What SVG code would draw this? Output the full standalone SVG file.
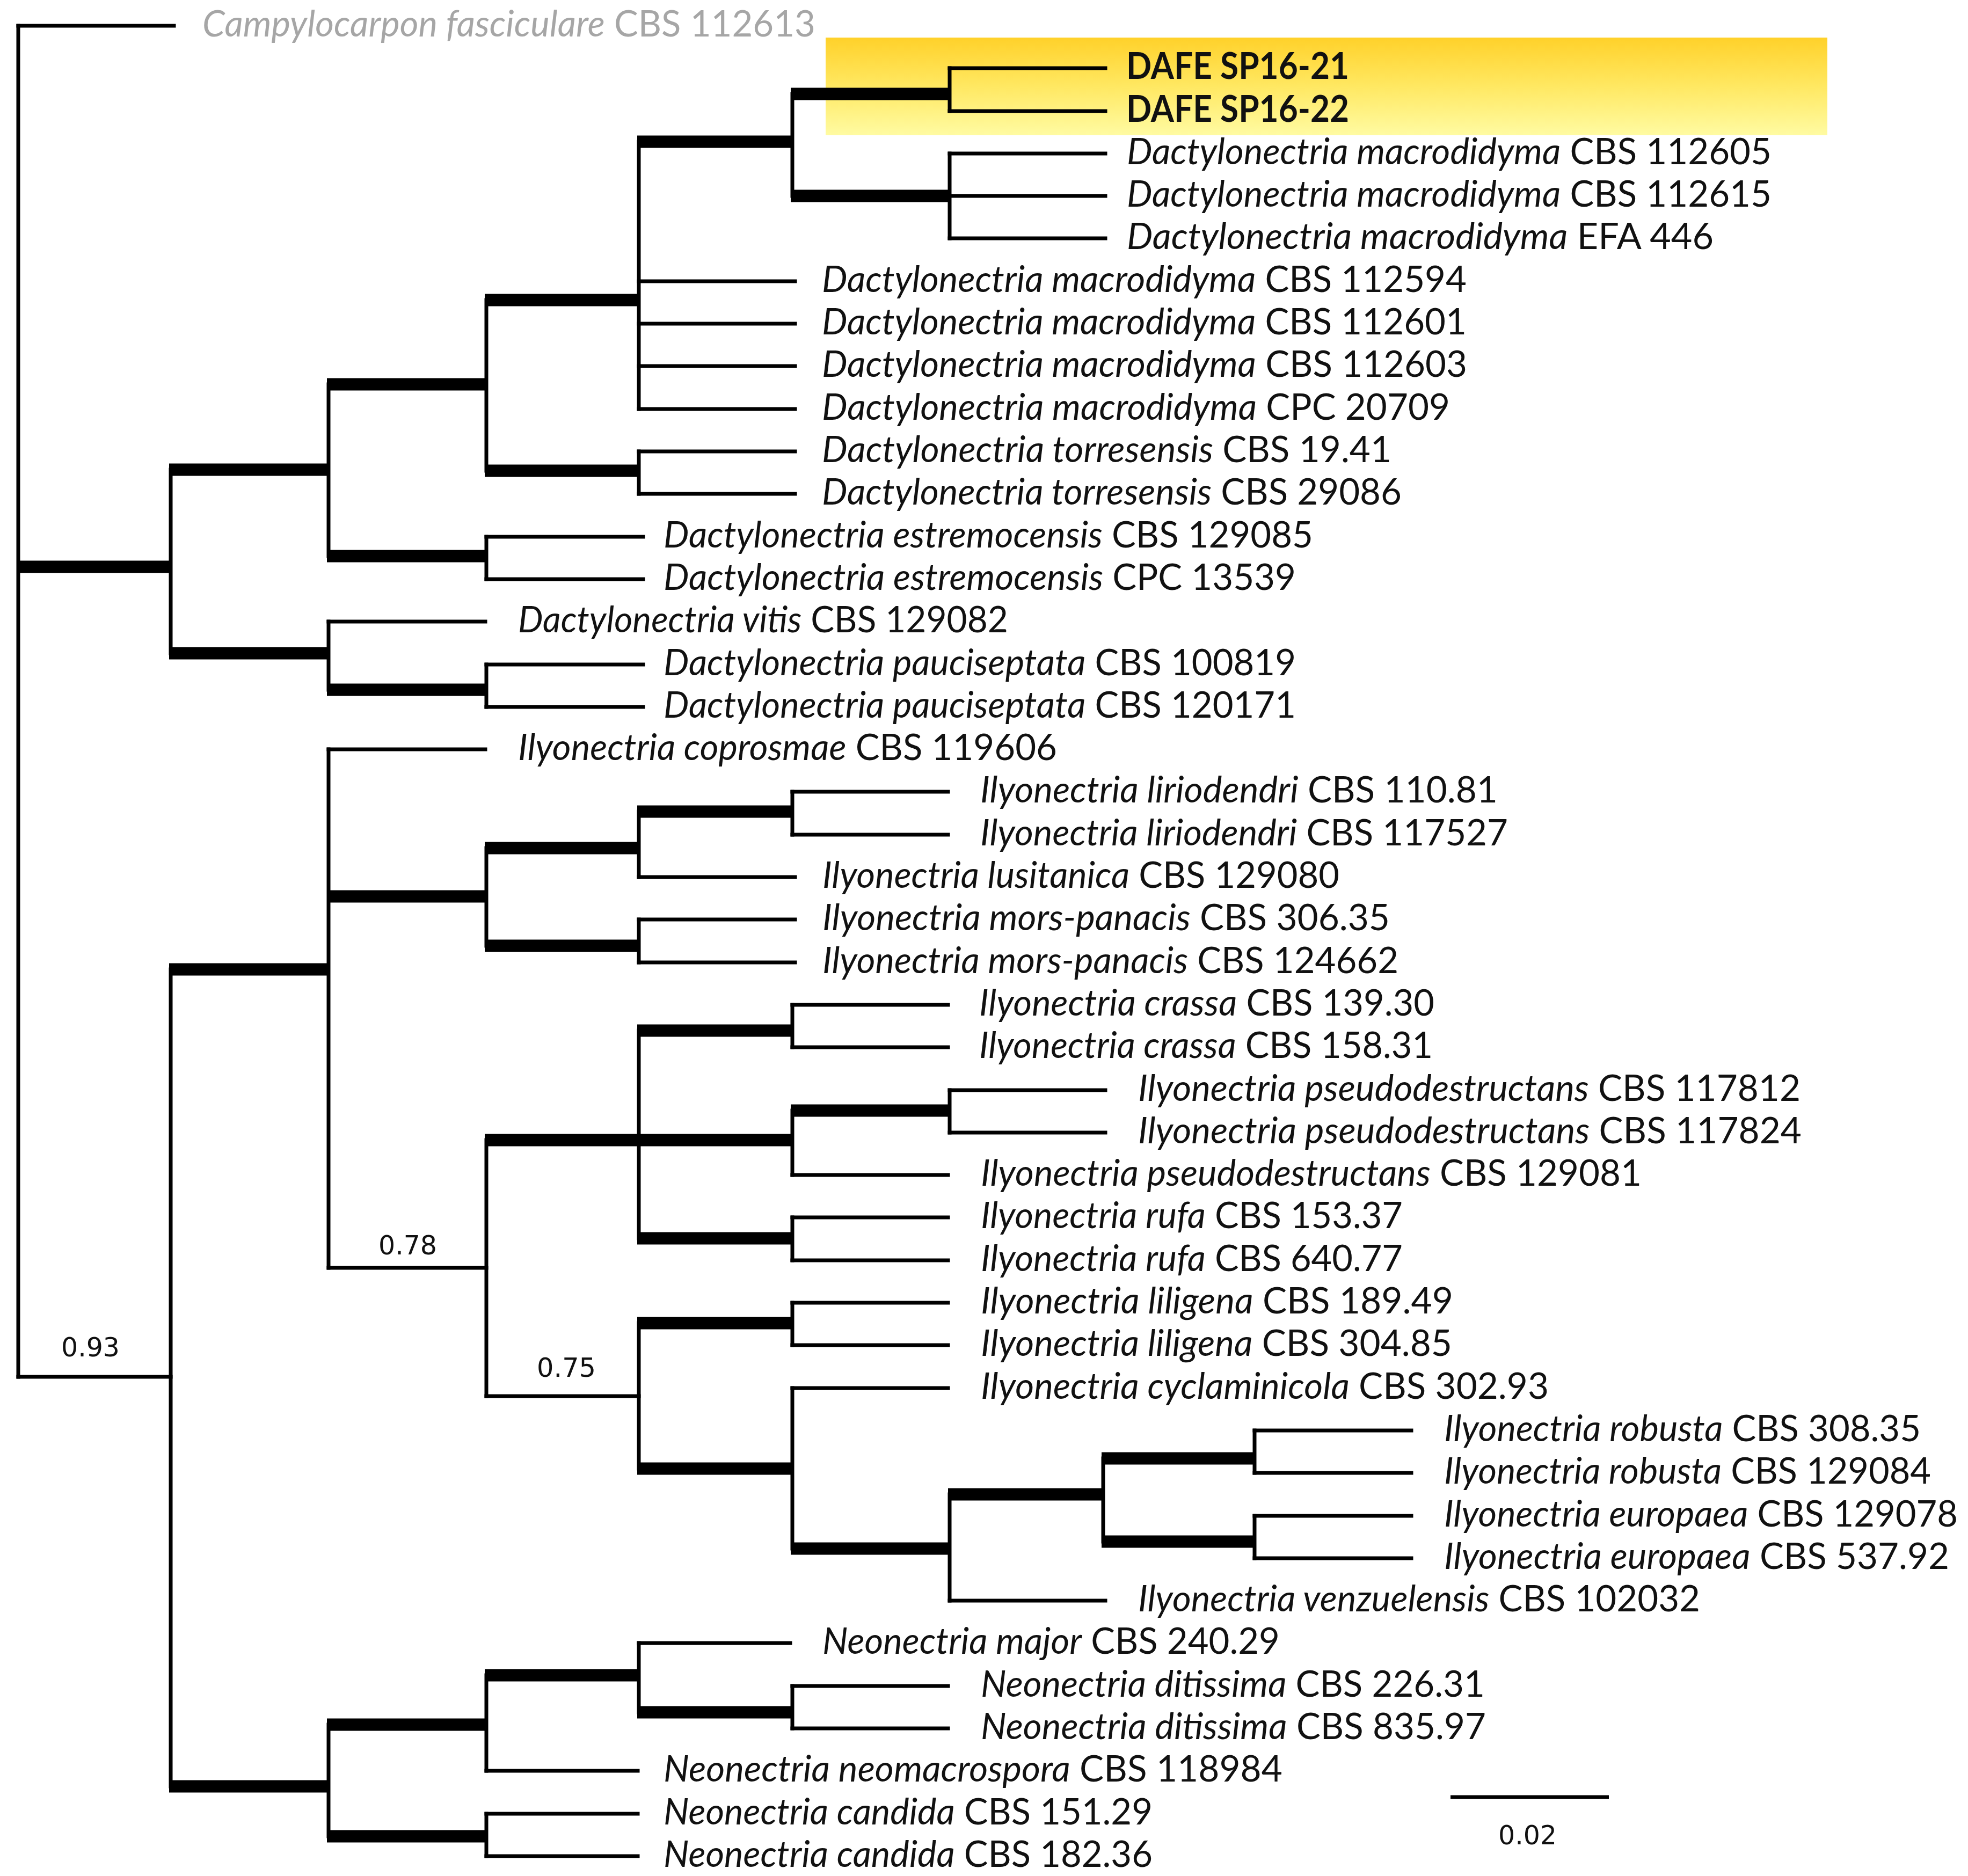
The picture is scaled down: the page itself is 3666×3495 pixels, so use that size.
<svg xmlns="http://www.w3.org/2000/svg" width="3666" height="3495" viewBox="0 0 3666 3495">
<style>
.t{font-family:Lato,"Open Sans","Liberation Sans",sans-serif;font-size:68px;fill:#111}
.i{font-style:italic}
.b{font-weight:bold}
.g{fill:#a6a6a6}
.num{font-family:"DejaVu Sans",Verdana,sans-serif;font-size:50px;fill:#111}
.thin{stroke:#000;stroke-width:7;fill:none;stroke-linecap:square}
.thick{stroke:#000;stroke-width:23;fill:none;stroke-linecap:butt}
</style>
<defs>
<linearGradient id="hl" x1="0" y1="0" x2="0" y2="1">
<stop offset="0" stop-color="#FFD12A"/>
<stop offset="0.5" stop-color="#FFE862"/>
<stop offset="1" stop-color="#FFFBA2"/>
</linearGradient>
</defs>
<rect width="3666" height="3495" fill="#fff"/>
<rect id="highlight" x="1538" y="70" width="1866" height="182" fill="url(#hl)"/>
<g id="connectors">
<path class="thin" d="M34 48V2565M318 875V1217M612 716V1036M906 559V877M1190 264V762M1476 175V365M1769 127V207M1769 286V444M1190 841V920M906 1000V1079M612 1158V1285M906 1238V1317M318 1806V3328M612 1396V2362M906 1580V1762M1190 1512V1634M1476 1475V1555M1190 1713V1793M906 2124V2601M1190 1920V2307M1476 1872V1951M1476 2069V2189M1769 2031V2110M1476 2268V2348M1190 2465V2736M1476 2427V2506M1476 2586V2885M1769 2784V2982M2055 2717V2872M2337 2665V2744M2337 2824V2903M612 3213V3421M906 3121V3299M906 3379V3458M1190 3061V3190M1476 3141V3220"/>
<path class="thin" d="M34 48H324M34 2565H318M1769 127H2059M1769 207H2059M1769 286H2059M1769 365H2059M1769 444H2059M1190 524H1481M1190 603H1481M1190 682H1481M1190 762H1481M1190 841H1481M1190 920H1481M906 1000H1198M906 1079H1198M612 1158H904M906 1238H1198M906 1317H1198M612 1396H904M612 2362H906M1476 1475H1766M1476 1555H1766M1190 1634H1481M1190 1713H1481M1190 1793H1481M1476 1872H1766M1476 1951H1766M1769 2031H2059M1769 2110H2059M1476 2189H1766M1476 2268H1766M1476 2348H1766M906 2601H1190M1476 2427H1766M1476 2506H1766M1476 2586H1766M2337 2665H2629M2337 2744H2629M2337 2824H2629M2337 2903H2629M1769 2982H2059M1190 3061H1472M1476 3141H1766M1476 3220H1766M906 3299H1188M906 3379H1188M906 3458H1188"/>
<path class="thick" d="M31 1056H321M315 875H615M609 716H909M903 559H1193M1187 264H1479M1473 175H1772M1473 365H1772M903 877H1193M609 1036H909M315 1217H615M609 1285H909M315 1806H615M609 1670H909M903 1580H1193M1187 1512H1479M903 1762H1193M903 2124H1479M1187 1920H1479M1473 2069H1772M1187 2307H1479M1187 2465H1479M1187 2736H1479M1473 2885H1772M1766 2784H2058M2052 2717H2340M2052 2872H2340M315 3328H615M609 3213H909M609 3421H909M903 3121H1193M1187 3190H1479"/>
</g>
<g id="leaf-0"><text class="t g" x="377" y="68" textLength="1142" lengthAdjust="spacingAndGlyphs"><tspan class="i">Campylocarpon fasciculare</tspan> CBS 112613</text></g>
<g id="leaf-1"><text class="t b" x="2098" y="147" textLength="415" lengthAdjust="spacingAndGlyphs">DAFE SP16-21</text></g>
<g id="leaf-2"><text class="t b" x="2098" y="227" textLength="415" lengthAdjust="spacingAndGlyphs">DAFE SP16-22</text></g>
<g id="leaf-3"><text class="t" x="2099" y="306" textLength="1201" lengthAdjust="spacingAndGlyphs"><tspan class="i">Dactylonectria macrodidyma</tspan> CBS 112605</text></g>
<g id="leaf-4"><text class="t" x="2099" y="385" textLength="1201" lengthAdjust="spacingAndGlyphs"><tspan class="i">Dactylonectria macrodidyma</tspan> CBS 112615</text></g>
<g id="leaf-5"><text class="t" x="2099" y="464" textLength="1093" lengthAdjust="spacingAndGlyphs"><tspan class="i">Dactylonectria macrodidyma</tspan> EFA 446</text></g>
<g id="leaf-6"><text class="t" x="1531" y="544" textLength="1201" lengthAdjust="spacingAndGlyphs"><tspan class="i">Dactylonectria macrodidyma</tspan> CBS 112594</text></g>
<g id="leaf-7"><text class="t" x="1531" y="623" textLength="1201" lengthAdjust="spacingAndGlyphs"><tspan class="i">Dactylonectria macrodidyma</tspan> CBS 112601</text></g>
<g id="leaf-8"><text class="t" x="1531" y="702" textLength="1202" lengthAdjust="spacingAndGlyphs"><tspan class="i">Dactylonectria macrodidyma</tspan> CBS 112603</text></g>
<g id="leaf-9"><text class="t" x="1531" y="782" textLength="1170" lengthAdjust="spacingAndGlyphs"><tspan class="i">Dactylonectria macrodidyma</tspan> CPC 20709</text></g>
<g id="leaf-10"><text class="t" x="1531" y="861" textLength="1061" lengthAdjust="spacingAndGlyphs"><tspan class="i">Dactylonectria torresensis</tspan> CBS 19.41</text></g>
<g id="leaf-11"><text class="t" x="1531" y="940" textLength="1080" lengthAdjust="spacingAndGlyphs"><tspan class="i">Dactylonectria torresensis</tspan> CBS 29086</text></g>
<g id="leaf-12"><text class="t" x="1236" y="1020" textLength="1210" lengthAdjust="spacingAndGlyphs"><tspan class="i">Dactylonectria estremocensis</tspan> CBS 129085</text></g>
<g id="leaf-13"><text class="t" x="1236" y="1099" textLength="1178" lengthAdjust="spacingAndGlyphs"><tspan class="i">Dactylonectria estremocensis</tspan> CPC 13539</text></g>
<g id="leaf-14"><text class="t" x="965" y="1178" textLength="913" lengthAdjust="spacingAndGlyphs"><tspan class="i">Dactylonectria vitis</tspan> CBS 129082</text></g>
<g id="leaf-15"><text class="t" x="1236" y="1258" textLength="1178" lengthAdjust="spacingAndGlyphs"><tspan class="i">Dactylonectria pauciseptata</tspan> CBS 100819</text></g>
<g id="leaf-16"><text class="t" x="1236" y="1337" textLength="1178" lengthAdjust="spacingAndGlyphs"><tspan class="i">Dactylonectria pauciseptata</tspan> CBS 120171</text></g>
<g id="leaf-17"><text class="t" x="965" y="1416" textLength="1004" lengthAdjust="spacingAndGlyphs"><tspan class="i">Ilyonectria coprosmae</tspan> CBS 119606</text></g>
<g id="leaf-18"><text class="t" x="1826" y="1495" textLength="964" lengthAdjust="spacingAndGlyphs"><tspan class="i">Ilyonectria liriodendri</tspan> CBS 110.81</text></g>
<g id="leaf-19"><text class="t" x="1826" y="1575" textLength="983" lengthAdjust="spacingAndGlyphs"><tspan class="i">Ilyonectria liriodendri</tspan> CBS 117527</text></g>
<g id="leaf-20"><text class="t" x="1532" y="1654" textLength="963" lengthAdjust="spacingAndGlyphs"><tspan class="i">Ilyonectria lusitanica</tspan> CBS 129080</text></g>
<g id="leaf-21"><text class="t" x="1532" y="1733" textLength="1057" lengthAdjust="spacingAndGlyphs"><tspan class="i">Ilyonectria mors-panacis</tspan> CBS 306.35</text></g>
<g id="leaf-22"><text class="t" x="1532" y="1813" textLength="1073" lengthAdjust="spacingAndGlyphs"><tspan class="i">Ilyonectria mors-panacis</tspan> CBS 124662</text></g>
<g id="leaf-23"><text class="t" x="1824" y="1892" textLength="848" lengthAdjust="spacingAndGlyphs"><tspan class="i">Ilyonectria crassa</tspan> CBS 139.30</text></g>
<g id="leaf-24"><text class="t" x="1824" y="1971" textLength="845" lengthAdjust="spacingAndGlyphs"><tspan class="i">Ilyonectria crassa</tspan> CBS 158.31</text></g>
<g id="leaf-25"><text class="t" x="2120" y="2051" textLength="1234" lengthAdjust="spacingAndGlyphs"><tspan class="i">Ilyonectria pseudodestructans</tspan> CBS 117812</text></g>
<g id="leaf-26"><text class="t" x="2120" y="2130" textLength="1236" lengthAdjust="spacingAndGlyphs"><tspan class="i">Ilyonectria pseudodestructans</tspan> CBS 117824</text></g>
<g id="leaf-27"><text class="t" x="1827" y="2209" textLength="1231" lengthAdjust="spacingAndGlyphs"><tspan class="i">Ilyonectria pseudodestructans</tspan> CBS 129081</text></g>
<g id="leaf-28"><text class="t" x="1827" y="2288" textLength="786" lengthAdjust="spacingAndGlyphs"><tspan class="i">Ilyonectria rufa</tspan> CBS 153.37</text></g>
<g id="leaf-29"><text class="t" x="1827" y="2368" textLength="786" lengthAdjust="spacingAndGlyphs"><tspan class="i">Ilyonectria rufa</tspan> CBS 640.77</text></g>
<g id="leaf-30"><text class="t" x="1827" y="2447" textLength="880" lengthAdjust="spacingAndGlyphs"><tspan class="i">Ilyonectria liligena</tspan> CBS 189.49</text></g>
<g id="leaf-31"><text class="t" x="1827" y="2526" textLength="878" lengthAdjust="spacingAndGlyphs"><tspan class="i">Ilyonectria liligena</tspan> CBS 304.85</text></g>
<g id="leaf-32"><text class="t" x="1827" y="2606" textLength="1058" lengthAdjust="spacingAndGlyphs"><tspan class="i">Ilyonectria cyclaminicola</tspan> CBS 302.93</text></g>
<g id="leaf-33"><text class="t" x="2690" y="2685" textLength="888" lengthAdjust="spacingAndGlyphs"><tspan class="i">Ilyonectria robusta</tspan> CBS 308.35</text></g>
<g id="leaf-34"><text class="t" x="2690" y="2764" textLength="907" lengthAdjust="spacingAndGlyphs"><tspan class="i">Ilyonectria robusta</tspan> CBS 129084</text></g>
<g id="leaf-35"><text class="t" x="2690" y="2844" textLength="957" lengthAdjust="spacingAndGlyphs"><tspan class="i">Ilyonectria europaea</tspan> CBS 129078</text></g>
<g id="leaf-36"><text class="t" x="2690" y="2923" textLength="941" lengthAdjust="spacingAndGlyphs"><tspan class="i">Ilyonectria europaea</tspan> CBS 537.92</text></g>
<g id="leaf-37"><text class="t" x="2120" y="3002" textLength="1047" lengthAdjust="spacingAndGlyphs"><tspan class="i">Ilyonectria venzuelensis</tspan> CBS 102032</text></g>
<g id="leaf-38"><text class="t" x="1532" y="3081" textLength="852" lengthAdjust="spacingAndGlyphs"><tspan class="i">Neonectria major</tspan> CBS 240.29</text></g>
<g id="leaf-39"><text class="t" x="1827" y="3161" textLength="939" lengthAdjust="spacingAndGlyphs"><tspan class="i">Neonectria ditissima</tspan> CBS 226.31</text></g>
<g id="leaf-40"><text class="t" x="1827" y="3240" textLength="941" lengthAdjust="spacingAndGlyphs"><tspan class="i">Neonectria ditissima</tspan> CBS 835.97</text></g>
<g id="leaf-41"><text class="t" x="1236" y="3319" textLength="1153" lengthAdjust="spacingAndGlyphs"><tspan class="i">Neonectria neomacrospora</tspan> CBS 118984</text></g>
<g id="leaf-42"><text class="t" x="1236" y="3399" textLength="911" lengthAdjust="spacingAndGlyphs"><tspan class="i">Neonectria candida</tspan> CBS 151.29</text></g>
<g id="leaf-43"><text class="t" x="1236" y="3478" textLength="911" lengthAdjust="spacingAndGlyphs"><tspan class="i">Neonectria candida</tspan> CBS 182.36</text></g>
<g id="support-values">
<text class="num" x="114" y="2527" textLength="109" lengthAdjust="spacingAndGlyphs">0.93</text>
<text class="num" x="705" y="2337" textLength="109" lengthAdjust="spacingAndGlyphs">0.78</text>
<text class="num" x="1000" y="2565" textLength="110" lengthAdjust="spacingAndGlyphs">0.75</text>
</g>
<g id="scale-bar">
<path d="M2702 3348H2997" stroke="#000" stroke-width="7" fill="none"/>
<text class="num" x="2791" y="3436" textLength="109" lengthAdjust="spacingAndGlyphs">0.02</text>
</g>
</svg>
